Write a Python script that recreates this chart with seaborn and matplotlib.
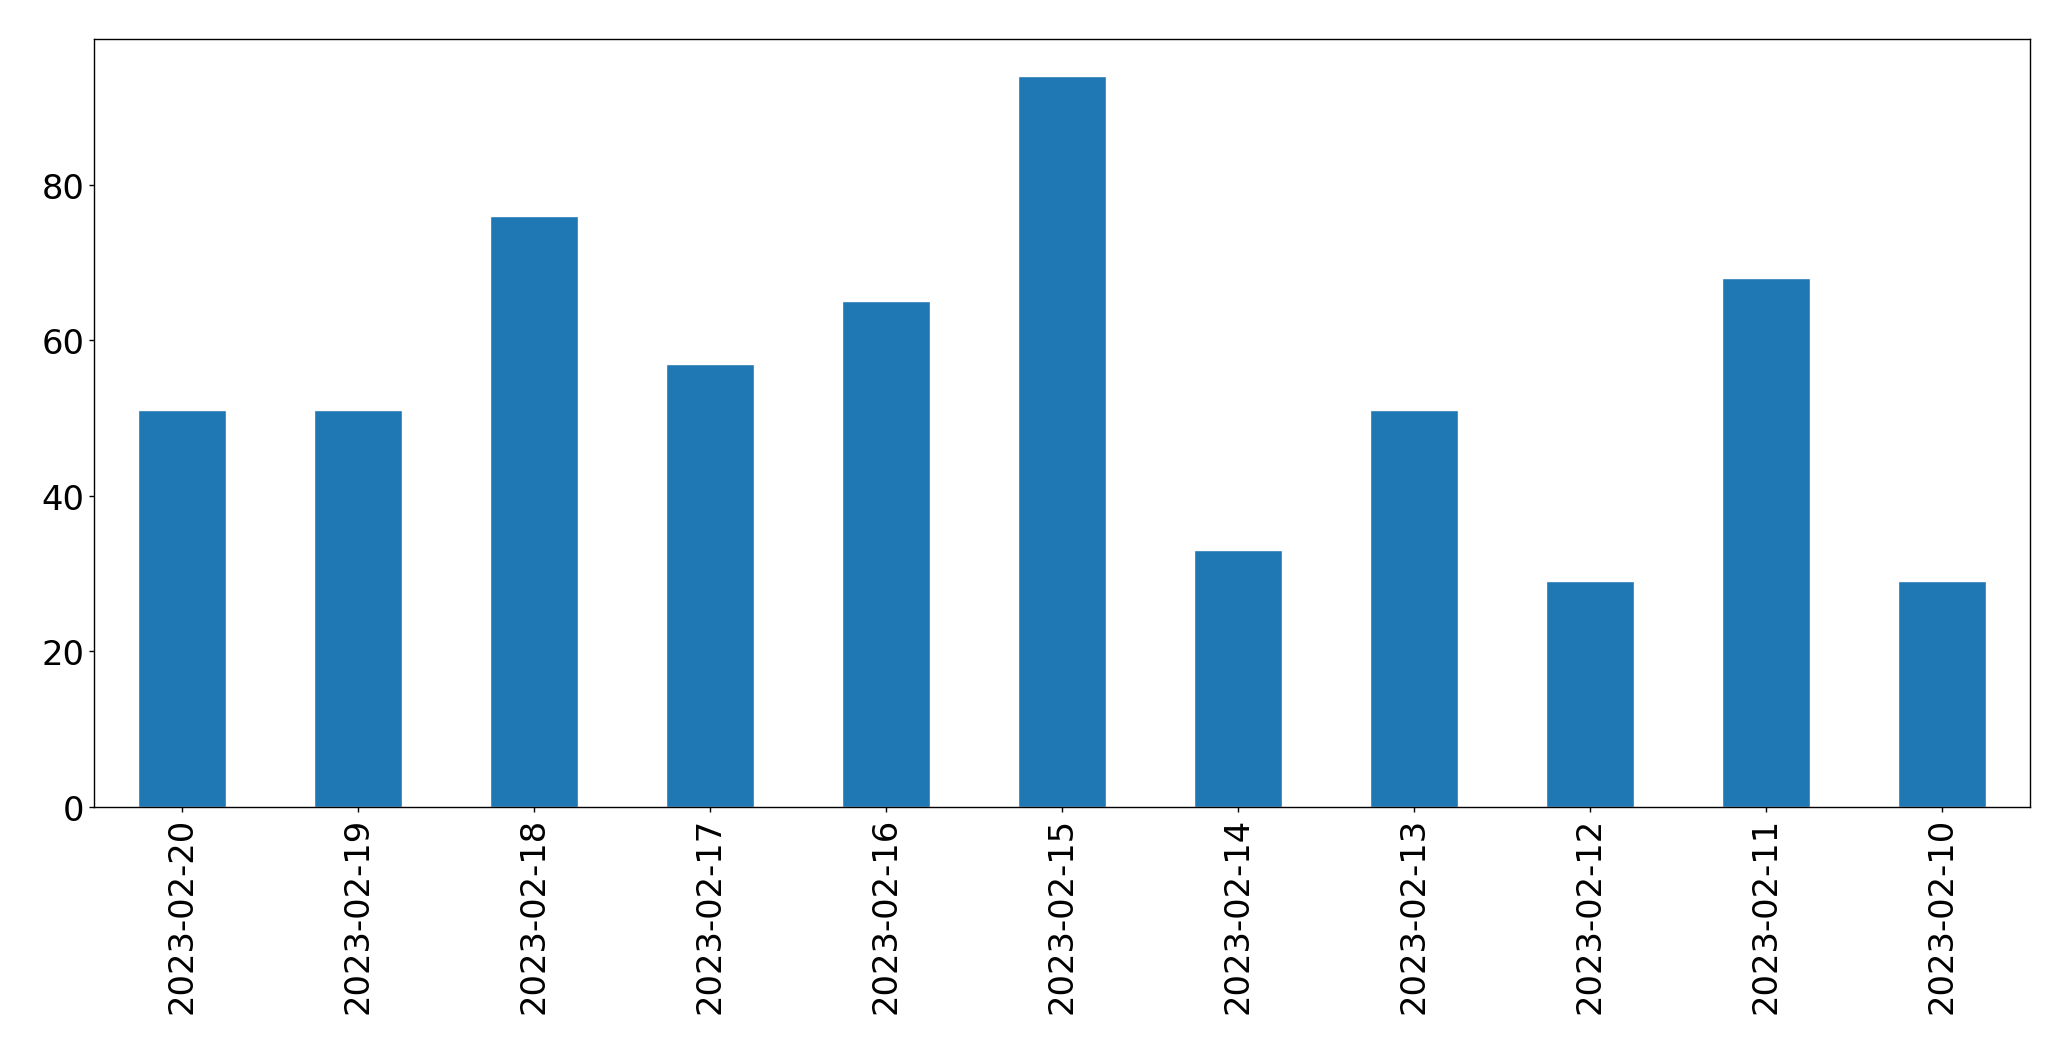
import matplotlib
import matplotlib.pyplot as plt
import pandas as pd
import seaborn as sns

matplotlib.use("Agg")

DATES  = ["2023-02-20", "2023-02-19", "2023-02-18", "2023-02-17", "2023-02-16",
          "2023-02-15", "2023-02-14", "2023-02-13", "2023-02-12", "2023-02-11",
          "2023-02-10"]
COUNTS = [51, 51, 76, 57, 65, 94, 33, 51, 29, 68, 29]

df = pd.DataFrame({"date": DATES, "count": COUNTS})

sns.set_style("ticks")
plt.rcParams["font.family"] = ["DejaVu Sans"]

fig = plt.figure(figsize=(20.71, 10.609), dpi=100)
ax = fig.add_axes([0.0454, 0.2385, 0.9346, 0.7235])

sns.barplot(data=df, x="date", y="count", ax=ax, color="#1f77b4",
            saturation=1, width=0.5)

ax.set_xlim(-0.5, len(DATES) - 0.5)
ax.set_ylim(0, max(COUNTS) * 1.05)
ax.set_xlabel("")
ax.set_ylabel("")
ax.tick_params(axis="both", labelsize=24.3, length=3.5, width=1.0,
               color="black", labelcolor="black")
ax.tick_params(axis="x", labelrotation=90)
for s in ax.spines.values():
    s.set_visible(True)
    s.set_linewidth(1.0)
    s.set_color("black")

fig.savefig("out.png", dpi=100)
plt.close(fig)
